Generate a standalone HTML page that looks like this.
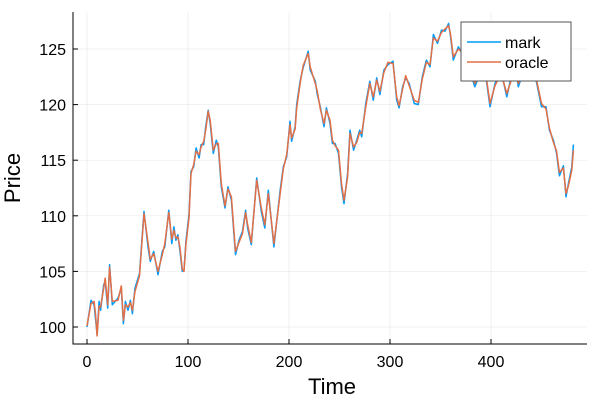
<!DOCTYPE html>
<html><head><meta charset="utf-8"><style>
body{margin:0;background:#fff}
svg text{font-family:"Liberation Sans","DejaVu Sans",sans-serif;fill:#000}
</style></head><body>
<svg id="chart" width="600" height="400" viewBox="0 0 600 400">
<rect x="0" y="0" width="600" height="400" fill="#fff"/>
<g id="grid"></g>
<g id="series"></g>
<g id="axes"></g>
<text x="332" y="394" font-size="22" text-anchor="middle">Time</text>
<text x="0" y="0" font-size="22" text-anchor="middle" transform="translate(20,178) rotate(-90)">Price</text>
<g>
<rect x="461" y="22" width="110" height="59" fill="#fff" stroke="#555" stroke-width="1"/>
<line x1="467" y1="42" x2="501" y2="42" stroke="#009af9" stroke-width="1.5"/>
<text x="505" y="48" font-size="16">mark</text>
<line x1="467" y1="62" x2="501" y2="62" stroke="#e26f46" stroke-width="1.5"/>
<text x="505" y="68" font-size="16">oracle</text>
</g>
</svg>
<script>
const times=[0,4,7,8.6,10,12,13.5,16.5,18,20.5,22.4,25,30.7,34,36,38,40.6,43,45,47.5,52,56.4,60.4,62.7,66,70.3,74.6,77,81,84,86,88,90,92,94.4,96,98,101,103,105.6,108,111,113,115.5,117.5,120,122,125,128,130,133,136.6,139.6,143,147,150.5,154,157,159,162.7,168,172.6,176,179.5,185,191,194.4,197.7,201,202.6,206,207.6,211,214,219,221,226,228,231,234.7,237,240.6,243,245.6,249,252,254.5,258,260.4,264,267,270,272,276,280,283.5,286.8,290,294,298,303,306.6,309,312.5,315.5,319,324,328,332,336,339.6,343,347,351,354.5,358,360,362.7,367.7,372,378,384,390,395,399,404,410,415.6,419,424,427,433,440,445.3,450,454.5,457.8,461.8,465,467.7,471.7,474.3,476.6,480,481.6];
const mark=[100.0,102.4,102.0,100.6,99.3,102.3,101.5,103.8,104.1,101.7,105.6,102.0,102.6,103.5,100.3,102.3,101.5,102.4,101.2,103.5,104.8,110.4,107.2,105.9,106.8,104.7,106.8,107.2,110.5,107.5,109,107.8,108.3,106.9,105,105.1,107.8,110.1,114,114.4,116.1,115.2,116.4,116.4,118,119.5,118.3,115.6,116.8,116.2,112.6,110.7,112.6,111.4,106.5,107.8,108.6,110.5,108.9,107.4,113.4,110.4,108.9,112.3,107.2,112.1,114.4,115.3,118.5,116.7,118,120,122.1,123.3,124.8,123.1,122.1,120.9,119.8,118,119.7,118.3,116.5,116.5,115.6,112.6,111.1,113.8,117.7,115.9,116.8,117.7,117.1,120.1,122.1,120.4,122.4,120.9,123.1,123.6,123.9,120.4,119.7,121.6,122.4,121.9,120.1,120,122.5,124,123.4,126.3,125.5,126.7,126.6,127.3,126.1,124,125.2,124.5,123.4,121.6,123,122.5,119.8,121.9,123,120.7,122.1,123.5,121.6,123.2,123.8,121.9,119.8,119.8,117.7,116.8,115.6,113.6,114.5,111.7,112.9,114.4,116.4];
const oracle=[100.1,102.1,102.3,101.0,99.2,101.9,101.8,103.5,104.4,102.0,105.4,102.3,102.4,103.7,100.6,102.0,101.8,102.2,101.5,103.2,104.6,110.2,107.6,106.1,106.6,105.0,106.5,107.5,110.3,107.9,108.7,108.0,108.1,107.2,105.2,105.0,107.5,109.8,113.8,114.6,115.8,115.5,116.2,116.7,117.7,119.4,118.6,115.9,116.5,116.5,112.9,110.9,112.4,111.7,106.8,107.6,108.4,110.3,109.2,107.6,113.2,110.7,109.2,112.0,107.5,111.8,114.2,115.5,118.2,117.0,117.8,119.7,121.9,123.5,124.6,123.4,121.9,121.2,119.6,118.3,119.5,118.6,116.8,116.3,115.9,112.9,111.4,113.5,117.4,116.2,116.6,117.5,117.4,119.8,121.9,120.7,122.2,121.2,122.9,123.8,123.7,120.7,119.9,121.4,122.6,121.7,120.4,120.2,122.3,123.8,123.6,126.0,125.7,126.5,126.8,127.1,126.3,124.3,125.0,124.7,123.2,121.9,122.8,122.7,120.1,121.7,122.8,121.0,121.9,123.3,121.9,123.0,123.6,122.1,120.1,119.6,117.9,116.6,115.8,113.9,114.3,112.0,112.7,114.1,115.9];
const xTicks=[0,100,200,300,400];
const yTicks=[100,105,110,115,120,125];

const L=73,R=587,T=12,B=344;
const xs=t=>87+t*1.01;
const ys=v=>327-(v-100)*11.12;
const NS="http://www.w3.org/2000/svg";
function mk(tag,attrs,parent){const e=document.createElementNS(NS,tag);for(const k in attrs)e.setAttribute(k,attrs[k]);parent.appendChild(e);return e;}
const grid=document.getElementById('grid'),axes=document.getElementById('axes'),series=document.getElementById('series');
xTicks.forEach(t=>{
  const g=mk('line',{x1:xs(t),x2:xs(t),y1:T,y2:B,stroke:'#000','stroke-opacity':0.1,'stroke-width':0.5},grid);
  
  
  const tk=mk('line',{x1:xs(t),x2:xs(t),y1:B,y2:B-5,stroke:'#000','stroke-width':1},axes);
  
  
  const lb=mk('text',{x:xs(t),y:367,'font-size':16,'text-anchor':'middle'},axes);
  lb.textContent=t;
  
  
});
yTicks.forEach(v=>{
  const g=mk('line',{x1:L,x2:R,y1:ys(v),y2:ys(v),stroke:'#000','stroke-opacity':0.1,'stroke-width':0.5},grid);
  
  
  const tk=mk('line',{x1:L,x2:L+5,y1:ys(v),y2:ys(v),stroke:'#000','stroke-width':1},axes);
  
  
  const lb=mk('text',{x:66,y:ys(v)+6,'font-size':16,'text-anchor':'end'},axes);
  lb.textContent=v;
  
  
});
const ax=mk('path',{d:`M${L},${T}V${B}H${R}`,fill:'none',stroke:'#000','stroke-width':1},axes);


function line(vals,color,name){
  const d=vals.map((v,i)=>(i?'L':'M')+xs(times[i]).toFixed(1)+','+ys(v).toFixed(1)).join('');
  const p=mk('path',{d:d,fill:'none',stroke:color,'stroke-width':1.5,'stroke-linejoin':'round'},series);
  
  
}
line(mark,'#009af9','mark-line');
line(oracle,'#e26f46','oracle-line');
</script>
</body></html>
